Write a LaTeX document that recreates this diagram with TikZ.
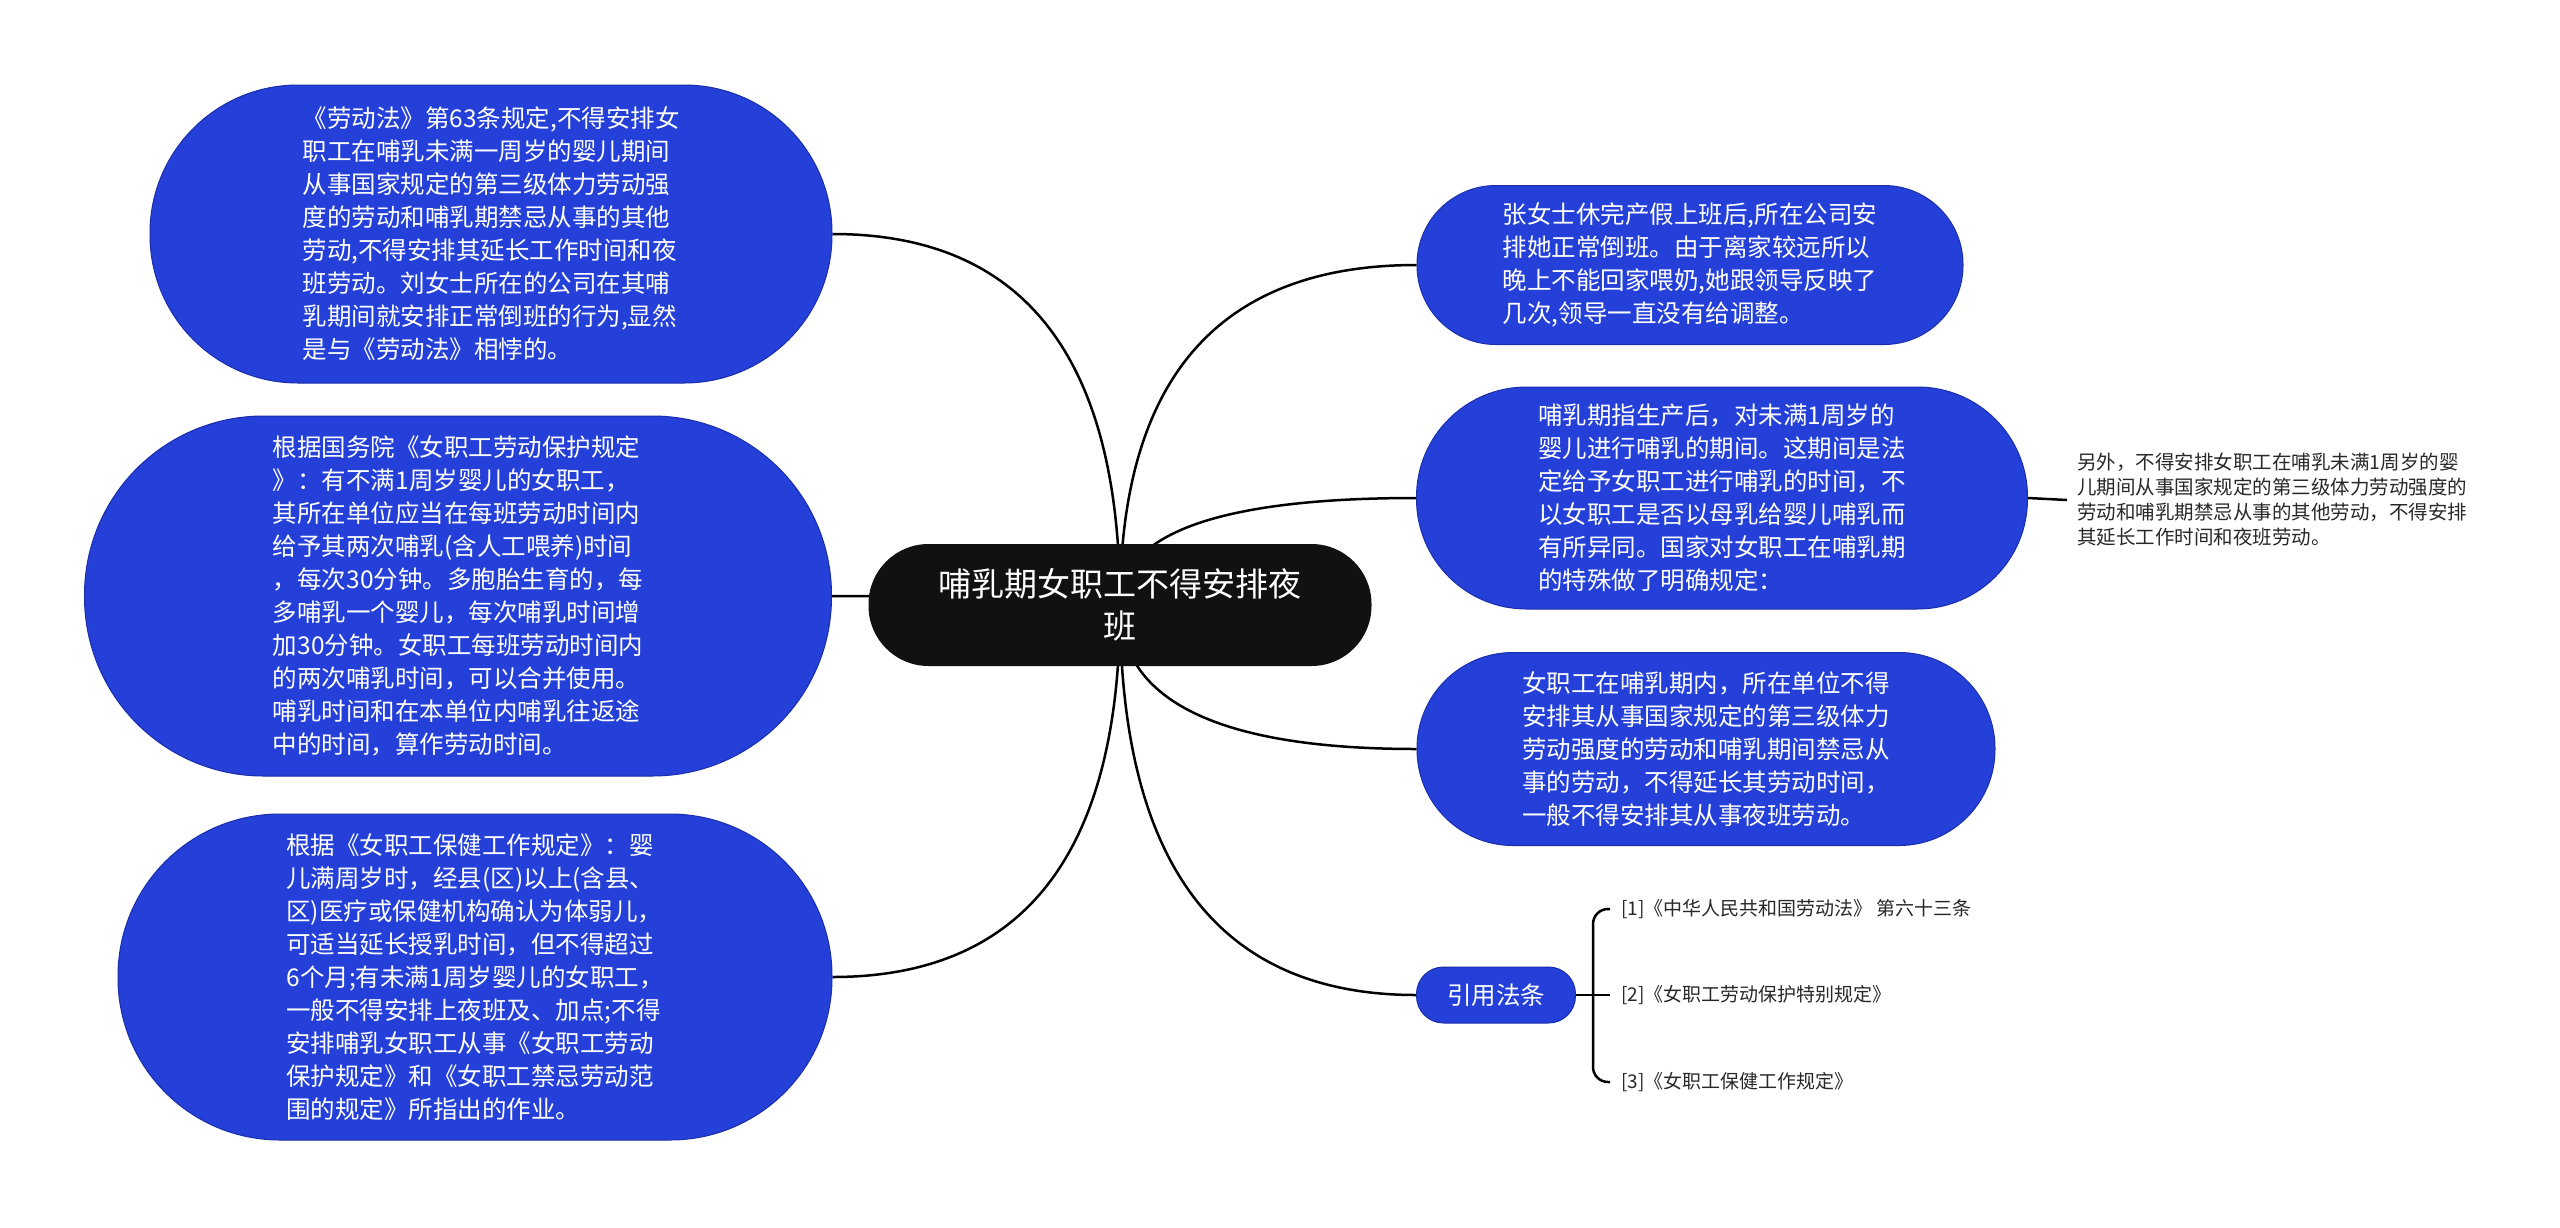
\documentclass[tikz,border=0pt]{standalone}
\usepackage{fontspec}
\setmainfont{Noto Sans CJK SC}
\usetikzlibrary{calc,backgrounds}
\definecolor{nodeblue}{RGB}{36,64,216}
\definecolor{nodeedge}{RGB}{26,46,170}
\definecolor{rootblack}{RGB}{17,17,17}
\definecolor{notegray}{RGB}{40,40,40}
\tikzset{
 bubble/.style={fill=nodeblue, draw=nodeedge, line width=1pt, text=white, align=left, font=\fontsize{24.5}{33}\selectfont, inner sep=0pt},
 rootnode/.style={fill=rootblack, text=white, align=center, font=\fontsize{33}{42}\selectfont, inner sep=0pt},
 conn/.style={draw=black, line width=2.5pt},
 notetext/.style={text=notegray, align=left, font=\fontsize{19.5}{25}\selectfont, inner sep=0pt, inner xsep=10pt, anchor=west},
 refitem/.style={text=notegray, font=\fontsize{19}{23}\selectfont, inner sep=0pt, inner xsep=11pt, anchor=west},
}
\begin{document}
\begin{tikzpicture}[x=1pt,y=-1pt]
\useasboundingbox (0,0) rectangle (2560,1227);

\node[rootnode, minimum width=503pt, minimum height=122pt, rounded corners=60pt] (root) at (1120,605) {哺乳期女职工不得安排夜\\班};

\node[bubble, minimum width=682pt, minimum height=298pt, rounded corners=148pt] (L1) at (491,234) {《劳动法》第63条规定,不得安排女\\职工在哺乳未满一周岁的婴儿期间\\从事国家规定的第三级体力劳动强\\度的劳动和哺乳期禁忌从事的其他\\劳动,不得安排其延长工作时间和夜\\班劳动。刘女士所在的公司在其哺\\乳期间就安排正常倒班的行为,显然\\是与《劳动法》相悖的。};

\node[bubble, minimum width=747pt, minimum height=360pt, rounded corners=179pt] (L2) at (458,596) {根据国务院《女职工劳动保护规定\\》：有不满1周岁婴儿的女职工，\\其所在单位应当在每班劳动时间内\\给予其两次哺乳(含人工喂养)时间\\，每次30分钟。多胞胎生育的，每\\多哺乳一个婴儿，每次哺乳时间增\\加30分钟。女职工每班劳动时间内\\的两次哺乳时间，可以合并使用。\\哺乳时间和在本单位内哺乳往返途\\中的时间，算作劳动时间。};

\node[bubble, minimum width=714pt, minimum height=326pt, rounded corners=162pt] (L3) at (475,977) {根据《女职工保健工作规定》：婴\\儿满周岁时，经县(区)以上(含县、\\区)医疗或保健机构确认为体弱儿，\\可适当延长授乳时间，但不得超过\\6个月;有未满1周岁婴儿的女职工，\\一般不得安排上夜班及、加点;不得\\安排哺乳女职工从事《女职工劳动\\保护规定》和《女职工禁忌劳动范\\围的规定》所指出的作业。};

\node[bubble, minimum width=546pt, minimum height=159pt, rounded corners=79pt] (R1) at (1690,265) {张女士休完产假上班后,所在公司安\\排她正常倒班。由于离家较远所以\\晚上不能回家喂奶,她跟领导反映了\\几次,领导一直没有给调整。};

\node[bubble, minimum width=611pt, minimum height=222pt, rounded corners=110pt] (R2) at (1722,498) {哺乳期指生产后，对未满1周岁的\\婴儿进行哺乳的期间。这期间是法\\定给予女职工进行哺乳的时间，不\\以女职工是否以母乳给婴儿哺乳而\\有所异同。国家对女职工在哺乳期\\的特殊做了明确规定：};

\node[bubble, minimum width=578pt, minimum height=193pt, rounded corners=96pt] (R3) at (1706,749) {女职工在哺乳期内，所在单位不得\\安排其从事国家规定的第三级体力\\劳动强度的劳动和哺乳期间禁忌从\\事的劳动，不得延长其劳动时间，\\一般不得安排其从事夜班劳动。};

\node[bubble, minimum width=159pt, minimum height=56pt, rounded corners=27pt, align=center] (cite) at (1496,995) {引用法条};

\node[notetext] (note) at (2067,500) {另外，不得安排女职工在哺乳未满1周岁的婴\\儿期间从事国家规定的第三级体力劳动强度的\\劳动和哺乳期禁忌从事的其他劳动，不得安排\\其延长工作时间和夜班劳动。};

\node[refitem] (ref1) at (1610,909) {[1]《中华人民共和国劳动法》 第六十三条};
\node[refitem] (ref2) at (1610,995) {[2]《女职工劳动保护特别规定》};
\node[refitem] (ref3) at (1610,1082) {[3]《女职工保健工作规定》};

\begin{scope}[on background layer]
\fill[white] (0,0) rectangle (2560,1227);
\foreach \c in {L1,L2,L3} {
  \coordinate (k) at (root.center |- \c.east);
  \draw[conn] (root.center) .. controls ($(root.center)!0.6667!(k)$) and ($(\c.east)!0.6667!(k)$) .. (\c.east);
}
\foreach \c in {R1,R2,R3,cite} {
  \coordinate (k) at (root.center |- \c.west);
  \draw[conn] (root.center) .. controls ($(root.center)!0.6667!(k)$) and ($(\c.west)!0.6667!(k)$) .. (\c.west);
}
\end{scope}

\draw[conn] (R2.east) -- (note.west);
\draw[conn] (cite.east) -- (ref2.west);
\draw[conn, rounded corners=15pt] (ref1.west) -| ([xshift=-17pt]ref2.west) |- (ref3.west);
\end{tikzpicture}
\end{document}
